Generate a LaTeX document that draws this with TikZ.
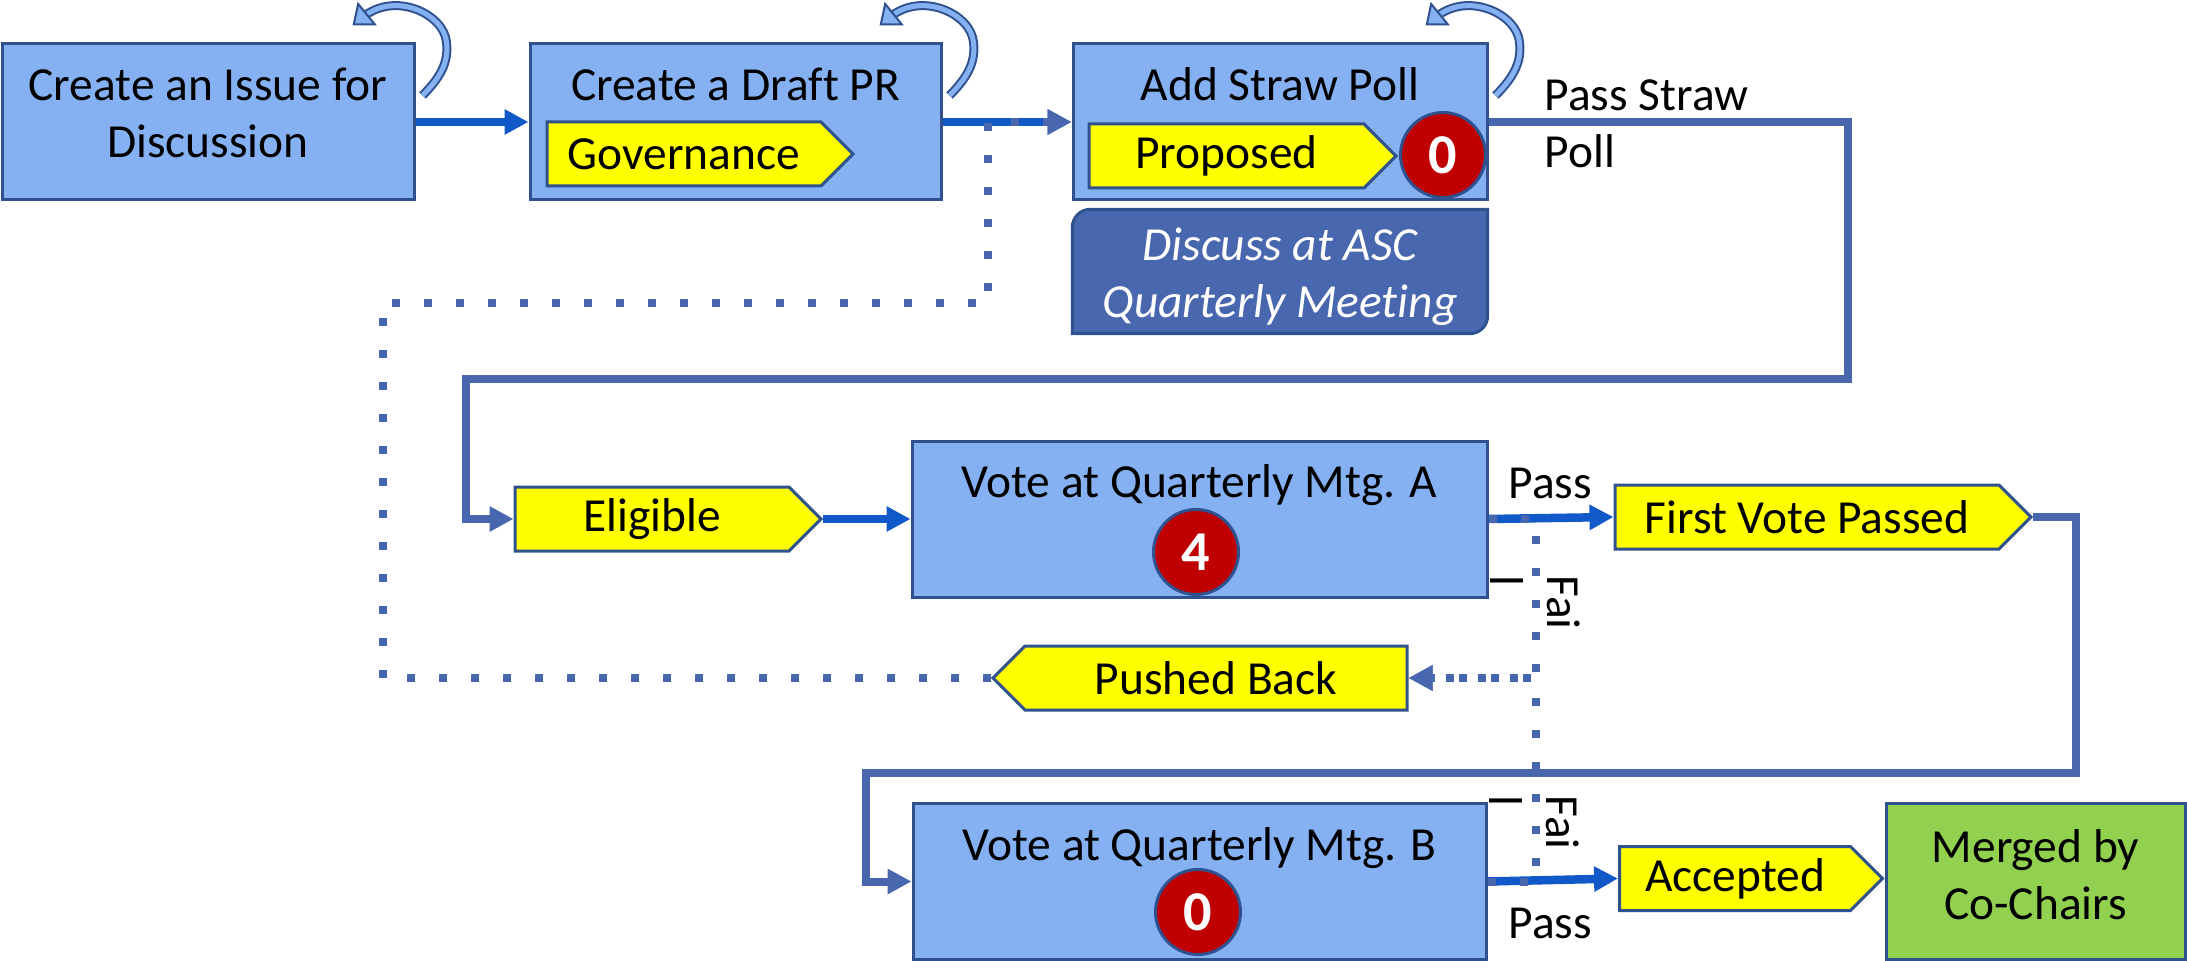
\documentclass[tikz,border=0pt]{standalone}
\usepackage{fontspec}
\setmainfont{Carlito}[Ligatures=NoCommon]
\usetikzlibrary{arrows.meta,shapes.symbols}

\definecolor{boxblue}{HTML}{85B1F3}
\definecolor{boxline}{HTML}{2F528F}
\definecolor{flowblue}{HTML}{1158C8}
\definecolor{linkblue}{HTML}{4967AE}
\definecolor{tagyellow}{HTML}{FFFF00}
\definecolor{votered}{HTML}{C00000}
\definecolor{mergegreen}{HTML}{92D050}

\newcommand{\boxfont}{\fontsize{13.5}{16.2}\selectfont}
\newcommand{\looptrack}{(7,53) .. controls (27,33) and (33,18) .. (31,0) .. controls (29,-28) and (-20,-52) .. (-63,-17)}

\begin{document}
\begin{tikzpicture}[x=0.1mm, y=-0.1mm,
    every node/.style={inner sep=0pt, font=\boxfont},
    stepbox/.style={draw=boxline, fill=boxblue, line width=0.3mm, minimum height=15.6mm},
    statetag/.style={signal, signal to=east, draw=boxline, fill=tagyellow, line width=0.3mm, minimum height=6.4mm},
    votecount/.style={circle, draw=boxline, fill=votered, line width=0.3mm, minimum size=8.5mm, text=white, font=\fontsize{16}{16}\selectfont\bfseries},
    flowarrow/.style={flowblue, line width=0.85mm, -{Triangle[length=2.4mm, width=2.4mm]}},
    linkarrow/.style={linkblue, line width=0.8mm, -{Triangle[length=2.4mm, width=2.4mm]}},
    failarrow/.style={linkblue, line width=0.8mm, dash pattern=on 0.8mm off 2.4mm, -{Triangle[length=2.4mm, width=2.4mm]}},
    loopout/.style={boxline, line width=0.9mm, shorten >=1.3mm},
    loopin/.style={boxblue, line width=0.5mm, shorten >=1.3mm},
    loophead/.style={boxblue, line width=0.2mm, -{Triangle[length=1.9mm, width=3mm, fill=boxblue, color=boxline]}}]
    \useasboundingbox (0,0) rectangle (2187,961);

    % top row
    \node[stepbox, minimum width=41.2mm] (issue) at (208,122) {};
    \node[stepbox, minimum width=41.1mm] (draft) at (735.5,122) {};
    \node[stepbox, minimum width=41.4mm] (poll) at (1280,122) {};
    \node[anchor=north, align=center] (issueT) at (208,67) {Create an Issue for\\Discussion};
    \node[anchor=north] (draftT) at (735.5,67) {Create a Draft PR};
    \node[anchor=north] (pollT) at (1280,67) {Add Straw Poll};
    \node[statetag, minimum width=30.6mm] (governance) at (684,154) {Governance};
    \node[statetag, minimum width=30.7mm] (proposed) at (1226.5,156) {Proposed};
    \node[votecount] (pollcount) at (1443,155) {0};

    \node[minimum width=41.4mm, minimum height=12.3mm] (discuss) at (1280,271.5) {};
    \draw[boxline, fill=linkblue, line width=0.3mm] ([yshift=-1.8mm]discuss.north west) arc[start angle=180, end angle=90, radius=1.8mm]
        -- (discuss.north east) -- ([yshift=1.8mm]discuss.south east) arc[start angle=0, end angle=-90, radius=1.8mm]
        -- (discuss.south west) -- cycle;
    \node[anchor=north, align=center, text=white, font=\boxfont\itshape] (discussT) at (1280,227) {Discuss at ASC\\Quarterly Meeting};

    % second row
    \node[statetag, minimum width=30.6mm] (eligible) at (652,519) {Eligible};
    \node[stepbox, minimum width=57.5mm] (voteA) at (1199.5,519) {};
    \node[anchor=north] (voteAT) at (1199.5,464) {Vote at Quarterly Mtg. A};
    \node[votecount] (countA) at (1196,552) {4};
    \node[statetag, minimum width=41.6mm] (firstvote) at (1807,517) {First Vote Passed};
    \node[statetag, signal to=west, minimum width=41.4mm] (pushed) at (1216,678) {Pushed Back};

    % third row
    \node[stepbox, minimum width=57.3mm] (voteB) at (1199.5,881.5) {};
    \node[anchor=north] (voteBT) at (1199.5,827) {Vote at Quarterly Mtg. B};
    \node[votecount] (countB) at (1198,912) {0};
    \node[statetag, minimum width=26.3mm] (accepted) at (1735,878.5) {Accepted};
    \node[stepbox, fill=mergegreen, minimum width=29.9mm] (merged) at (2035.5,881) {};
    \node[anchor=north, align=center] (mergedT) at (2035.5,829) {Merged by\\Co-Chairs};

    % connectors
    \draw[flowarrow] (issue.east) -- (draft.west);
    \draw[flowarrow] (draft.east) -- (poll.west);
    \draw[flowarrow] (eligible.east) -- (voteA.west);
    \draw[flowarrow] (voteA.east) -- (firstvote.west);
    \draw[flowarrow] (voteB.east) -- (accepted.west);
    \draw[linkarrow] (poll.east) -- (1848,122) |- (466,379) |- (eligible.west);
    \draw[linkarrow] (firstvote.east) -- (2076,517) |- (866,773) |- (voteB.west);
    \draw[failarrow] (voteA.east) -- ++(47,0) |- (pushed.east);
    \draw[failarrow] (voteB.east) -- ++(48,0) |- (pushed.east);
    \draw[failarrow] (pushed.west) -| (383,303) -| (988,122) -- (poll.west);

    % labels
    \node[anchor=north west, align=left] (strawL) at (1544,79) {Pass Straw\\Poll};
    \node[anchor=base west] (passA) at (1508,498) {Pass};
    \node[anchor=base west] (passB) at (1508,938) {Pass};
    \node[rotate=-90, anchor=north west, align=left] (failA) at (1581,575) {Fai\\l};
    \node[rotate=-90, anchor=north west, align=left] (failB) at (1580,795) {Fai\\l};

    % self loops
    \begin{scope}[shift={(issue.north east)}]
        \draw[loopout] \looptrack;
        \draw[loopin] \looptrack;
        \draw[loophead] \looptrack;
    \end{scope}
    \begin{scope}[shift={(draft.north east)}]
        \draw[loopout] \looptrack;
        \draw[loopin] \looptrack;
        \draw[loophead] \looptrack;
    \end{scope}
    \begin{scope}[shift={(poll.north east)}]
        \draw[loopout] \looptrack;
        \draw[loopin] \looptrack;
        \draw[loophead] \looptrack;
    \end{scope}
\end{tikzpicture}
\end{document}
